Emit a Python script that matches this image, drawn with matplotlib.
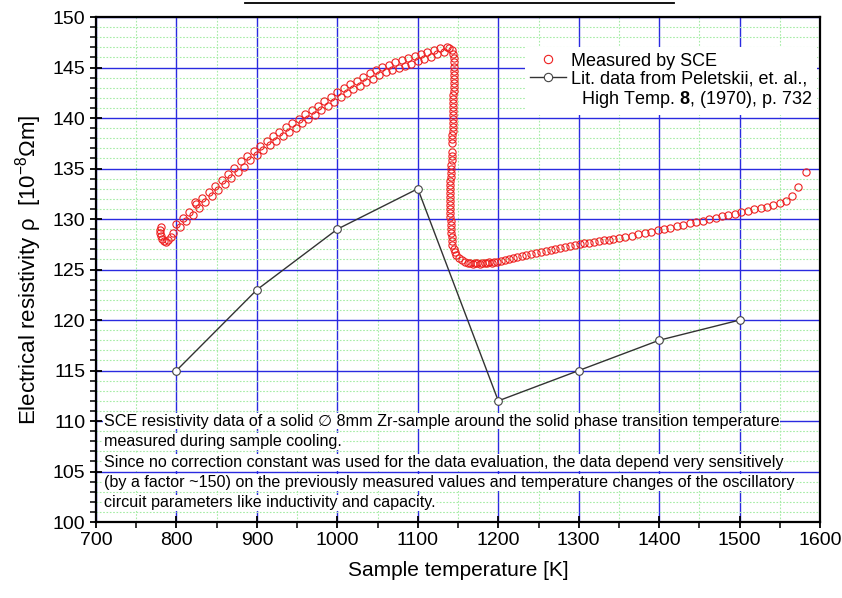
import matplotlib
matplotlib.use("Agg")
import matplotlib.pyplot as plt
from matplotlib.lines import Line2D
from matplotlib.ticker import MultipleLocator

plt.rcParams["font.family"] = ["Liberation Sans", "DejaVu Sans"]
plt.rcParams["mathtext.fontset"] = "custom"
plt.rcParams["mathtext.rm"] = "Liberation Sans"
plt.rcParams["mathtext.bf"] = "Liberation Sans:bold"

# SCE measurement (cooling run), split by phase region
alpha_T = [781, 780, 780, 781, 782, 784, 787, 790, 793, 796,
           800, 804, 808, 812, 816, 820, 823,
           824, 828, 832, 836, 840, 844, 848, 852, 856, 860,
           864, 868, 872, 876, 880, 884, 888, 892, 896, 900,
           904, 908, 912, 916, 920, 924, 928, 932, 936, 940,
           944, 948, 952, 956, 960, 964, 968, 972, 976, 980,
           984, 988, 992, 996, 1000, 1004, 1008, 1012, 1016, 1020,
           1024, 1028, 1032, 1036, 1040, 1044, 1048, 1052, 1056, 1060,
           1064, 1068, 1072, 1076, 1080, 1084, 1088, 1092, 1096, 1100,
           1104, 1108, 1112, 1116, 1120, 1124, 1128, 1132, 1136,
           1139, 1142]
alpha_rho = [129.2, 128.9, 128.6, 128.3, 128.0, 127.8, 127.7, 127.9, 128.2, 128.6,
             129.5, 129.2, 130.1, 129.8, 130.7, 130.4, 131.7,
             131.5, 131.1, 132.1, 131.7, 132.7, 132.3, 133.3, 132.9, 133.9, 133.5,
             134.5, 134.1, 135.1, 134.7, 135.7, 135.2, 136.2, 135.8, 136.7, 136.3,
             137.2, 136.8, 137.7, 137.3, 138.2, 137.7, 138.6, 138.2, 139.1, 138.6,
             139.5, 139.0, 139.9, 139.5, 140.4, 139.9, 140.8, 140.3, 141.2, 140.8,
             141.7, 141.2, 142.1, 141.6, 142.6, 142.1, 143.0, 142.5, 143.4, 142.9,
             143.7, 143.2, 144.1, 143.6, 144.5, 143.9, 144.8, 144.3, 145.1, 144.6,
             145.3, 144.8, 145.5, 145.0, 145.7, 145.2, 145.9, 145.4, 146.1, 145.6,
             146.3, 145.8, 146.5, 146.0, 146.7, 146.3, 146.9, 146.5, 147.0,
             146.9, 146.7]

transition_T = [1144, 1144.5, 1144.5, 1144.5, 1144.5, 1144.5, 1144.5, 1144.5, 1144.5, 1144.5,
                1144, 1144, 1144, 1144, 1144, 1144, 1144, 1143.5, 1143.5, 1143.5,
                1143, 1143, 1142.5, 1142.5, 1142, 1142, 1141.5, 1141.5, 1141, 1141,
                1140.5, 1140.5, 1140.5, 1140.5, 1140.5, 1140.5, 1140.5, 1140.5, 1140.5, 1140.5,
                1141, 1141, 1141, 1141.5, 1142, 1142.5, 1143, 1144.5, 1146, 1148,
                1151, 1155]
transition_rho = [146.3, 145.9, 145.5, 145.1, 144.7, 144.3, 143.9, 143.5, 143.1, 142.7,
                  142.3, 141.9, 141.5, 141.1, 140.7, 140.3, 139.9, 139.5, 139.1, 138.7,
                  138.3, 137.9, 137.5, 136.6, 136.2, 135.8, 135.4, 135.0, 134.6, 134.2,
                  133.8, 133.4, 133.0, 132.6, 132.2, 131.8, 131.4, 131.0, 130.6, 130.2,
                  129.8, 129.4, 129.0, 128.6, 128.2, 127.8, 127.4, 127.0, 126.7, 126.4,
                  126.1, 125.9]

beta_T = [1159, 1162, 1165, 1168, 1171, 1174, 1177, 1180, 1183, 1186,
          1189, 1192, 1195, 1198, 1203, 1208, 1213, 1218, 1223,
          1229, 1235, 1241, 1247, 1253, 1259, 1265, 1271, 1277, 1283,
          1289, 1295, 1301, 1307, 1313, 1319, 1325, 1331, 1337, 1343,
          1350, 1358, 1366, 1374, 1382, 1390, 1398, 1406, 1414, 1422,
          1430, 1438, 1446, 1454, 1462, 1470, 1478, 1486, 1494, 1502,
          1510, 1518, 1526, 1534, 1542, 1550, 1558,
          1565, 1573, 1582]
beta_rho = [125.7, 125.6, 125.6, 125.5, 125.6, 125.6, 125.5, 125.6, 125.6, 125.6,
            125.7, 125.6, 125.7, 125.7, 125.8, 125.9, 126.0, 126.1, 126.2,
            126.3, 126.4, 126.5, 126.6, 126.7, 126.8, 126.9, 127.0, 127.1, 127.2,
            127.3, 127.4, 127.5, 127.6, 127.6, 127.7, 127.8, 127.9, 127.9, 128.0,
            128.1, 128.2, 128.3, 128.5, 128.6, 128.7, 128.9, 129.0, 129.1, 129.3,
            129.4, 129.6, 129.7, 129.8, 130.0, 130.1, 130.3, 130.4, 130.5, 130.7,
            130.8, 131.0, 131.1, 131.2, 131.4, 131.6, 131.8,
            132.3, 133.2, 134.7]

# Literature values (Peletskii et al.)
lit_T = [800, 900, 1000, 1100, 1200, 1300, 1400, 1500]
lit_rho = [115, 123, 129, 133, 112, 115, 118, 120]

note_lines = [
    "SCE resistivity data of a solid \u2205 8mm Zr-sample around the solid phase transition temperature",
    "measured during sample cooling.",
    "Since no correction constant was used for the data evaluation, the data depend very sensitively",
    "(by a factor ~150) on the previously measured values and temperature changes of the oscillatory",
    "circuit parameters like inductivity and capacity.",
]

fig = plt.figure(figsize=(8.42, 5.98), dpi=100)
ax = fig.add_axes([0.114, 0.127, 0.860, 0.8445])

sce_T = alpha_T + transition_T + beta_T
sce_rho = alpha_rho + transition_rho + beta_rho
ax.plot(sce_T, sce_rho, linestyle="none", marker="o", ms=5.2, mfc="none",
        mec="#ee2020", mew=0.8, zorder=3)
ax.plot(lit_T, lit_rho, color="#333333", lw=1.0, marker="o", ms=5.5,
        mfc="white", mec="#444444", mew=0.8, zorder=4)

ax.set_xlim(700, 1600)
ax.set_ylim(100, 150)
ax.xaxis.set_major_locator(MultipleLocator(100))
ax.xaxis.set_minor_locator(MultipleLocator(50))
ax.yaxis.set_major_locator(MultipleLocator(5))
ax.yaxis.set_minor_locator(MultipleLocator(1))

ax.set_axisbelow(True)
ax.grid(which="major", color="#2a2ae0", lw=1.0)
ax.grid(which="minor", color="#a6eca6", lw=0.8, ls=(0, (1.5, 1.5)))

for side in ["top", "right", "bottom", "left"]:
    ax.spines[side].set_linewidth(1.6)
ax.tick_params(which="major", direction="inout", length=9, width=1.3,
               labelsize=14, pad=3)
ax.tick_params(which="minor", direction="out", length=4, width=1.1)
ax.tick_params(top=False, right=False, which="both")

ax.set_xlabel("Sample temperature [K]", fontsize=15, labelpad=8)
ax.set_ylabel("Electrical resistivity \u03c1  [10$^{-8}$\u03a9m]", fontsize=16, labelpad=6)

handles = [
    Line2D([], [], ls="none", marker="o", ms=6, mfc="none", mec="#ee2020", mew=0.8),
    Line2D([], [], color="#333333", lw=1.0, marker="o", ms=6, mfc="white", mec="#444444", mew=0.8),
    Line2D([], [], ls="none"),
]
labels = [
    "Measured by SCE",
    "Lit. data from Peletskii, et. al.,",
    r"  High Temp. $\mathbf{8}$, (1970), p. 732",
]
leg = ax.legend(handles, labels, loc="upper right", bbox_to_anchor=(0.996, 0.94),
                fontsize=13, frameon=True, fancybox=False, framealpha=1,
                edgecolor="none", facecolor="white", borderaxespad=0,
                borderpad=0.3, handlelength=2.0, handletextpad=0.25, labelspacing=0.05)
leg.set_zorder(6)

note_y = [110.0, 108.0, 105.9, 103.9, 101.9]
for line, y in zip(note_lines, note_y):
    ax.text(710, y, line, fontsize=11.6, va="center", ha="left", zorder=5,
            bbox=dict(facecolor="white", edgecolor="none", pad=0.6))

# underline of the heading above the plot frame
fig.add_artist(Line2D([0.291, 0.800], [0.995, 0.995], color="black", lw=1.3))

fig.savefig("out.png", dpi=100)
